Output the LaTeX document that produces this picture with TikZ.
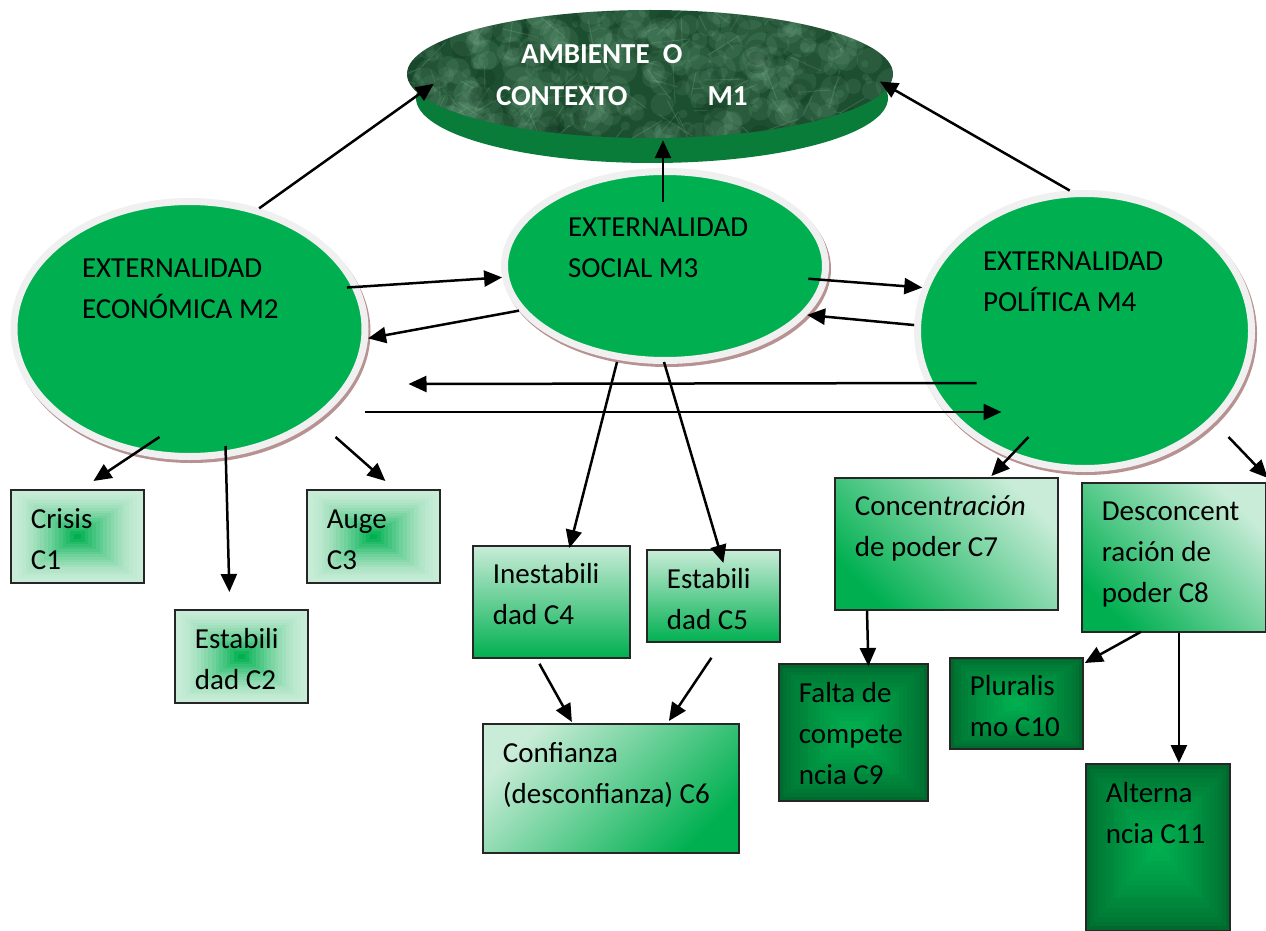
\documentclass[tikz,border=0pt]{standalone}
\usepackage{fontspec}
\setmainfont{Carlito}
\usetikzlibrary{shapes.geometric,arrows.meta,calc}

\definecolor{verde}{RGB}{0,176,80}
\definecolor{verdeclaro}{RGB}{201,236,216}
\definecolor{verdeoscuro}{RGB}{0,106,46}
\definecolor{bordeelipse}{RGB}{240,240,240}
\definecolor{sombra}{RGB}{184,146,146}
\definecolor{marmol}{RGB}{28,78,48}
\definecolor{vetaclara}{RGB}{150,202,166}
\definecolor{vetaoscura}{RGB}{10,44,26}
\definecolor{canto}{RGB}{10,124,58}
\definecolor{lineacaja}{RGB}{38,38,38}

\tikzset{
  externalidad/.style={ellipse, fill=verde, draw=bordeelipse, line width=7pt,
    preaction={draw=sombra, line width=7pt, transform canvas={shift={(2pt,-3pt)}}},
    inner sep=0pt, align=flush left, text height=20pt, font=\fontsize{29}{41}\selectfont},
  concepto/.style={rectangle, draw=lineacaja, line width=1.8pt, anchor=north west,
    inner xsep=20pt, inner ysep=0pt, align=flush left, font=\fontsize{29}{41}\selectfont},
  anillos/.style 2 args={path picture={
    \foreach \i in {0,...,17}{
      \pgfmathsetmacro{\t}{1-\i/18}
      \pgfmathtruncatemacro{\f}{100*(\i/17)^#2}
      \fill[verde!\f!#1] ($(path picture bounding box.center)!\t!(path picture bounding box.north west)$)
        rectangle ($(path picture bounding box.center)!\t!(path picture bounding box.south east)$);
    }}},
  clarobox/.style={concepto, anillos={verdeclaro}{1.5}},
  degradado/.style={concepto, top color=verdeclaro, bottom color=verde},
  oscurobox/.style={concepto, anillos={verdeoscuro}{0.75}},
  flecha/.style={-{Triangle[length=18pt,width=16pt]}, line width=2.5pt, black}
}

\begin{document}
\begin{tikzpicture}[x=1pt, y=-1pt]
        \useasboundingbox[fill=white] (0,0) rectangle (1266,931);

        % Ambiente (M1)
        \fill[canto] (652,98) ellipse [x radius=236, y radius=65];
        \pgfmathsetseed{7}
        \node[ellipse, minimum width=486pt, minimum height=128pt, inner sep=0pt, fill=marmol,
              text=white, font=\bfseries\fontsize{29}{42}\selectfont, align=flush left,
              text width=308pt, text height=20pt, text depth=40pt,
              path picture={
                \foreach \k in {1,...,300}{
                  \pgfmathsetmacro{\px}{486*rnd}
                  \pgfmathsetmacro{\py}{128*rnd}
                  \pgfmathsetmacro{\pr}{3+14*rnd}
                  \fill[vetaclara, opacity=0.11]
                    ([shift={(\px,\py)}]path picture bounding box.north west) circle (\pr);
                }
                \foreach \k in {1,...,90}{
                  \pgfmathsetmacro{\px}{486*rnd}
                  \pgfmathsetmacro{\py}{128*rnd}
                  \pgfmathsetmacro{\pa}{360*rnd}
                  \pgfmathsetmacro{\pl}{10+35*rnd}
                  \draw[vetaclara, opacity=0.2, line width=1pt, line cap=round]
                    ([shift={(\px,\py)}]path picture bounding box.north west) -- ++(\pa:\pl);
                }
                \foreach \k in {1,...,70}{
                  \pgfmathsetmacro{\px}{486*rnd}
                  \pgfmathsetmacro{\py}{128*rnd}
                  \pgfmathsetmacro{\pr}{4+10*rnd}
                  \fill[vetaoscura, opacity=0.18]
                    ([shift={(\px,\py)}]path picture bounding box.north west) circle (\pr);
                }
              }] (m1) at (650,74) {\hspace*{25pt}AMBIENTE\ \ O\\CONTEXTO\hspace{80pt}M1};

        % Externalidades
        \node[externalidad, minimum width=351pt, minimum height=255pt, text width=215pt, text depth=124pt]
              (m2) at (189.5,329) {EXTERNALIDAD\\ECONÓMICA~M2};
        \node[externalidad, minimum width=321pt, minimum height=189pt, text width=194pt, text depth=80pt]
              (m3) at (665,266) {EXTERNALIDAD\\SOCIAL~M3};
        \node[externalidad, minimum width=334pt, minimum height=275pt, text width=203pt, text depth=142pt]
              (m4) at (1084.5,331) {EXTERNALIDAD\\POLÍTICA~M4};

        % Conceptos
        \node[clarobox, text width=93pt, text height=39pt, text depth=54pt] (c1) at (10,489) {Crisis\\C1};
        \node[clarobox, text width=93pt, text height=39pt, text depth=54pt] (c2) at (174,609) {Estabili\\dad~C2};
        \node[clarobox, text width=93pt, text height=39pt, text depth=54pt] (c3) at (306,489) {Auge\\C3};
        \node[degradado, text width=117pt, text height=38pt, text depth=74pt] (c4) at (472,545) {Inestabili\\dad~C4};
        \node[degradado, text width=93pt, text height=39pt, text depth=53pt] (c5) at (646,549) {Estabili\\dad~C5};
        \node[degradado, shading angle=45, text width=216pt, text height=39pt, text depth=90pt]
              (c6) at (482,723) {Confianza\\(desconfianza)~C6};
        \node[degradado, shading angle=-45, text width=183pt, text height=38pt, text depth=94pt]
              (c7) at (834,477) {Concen\textit{tración}\\de~poder~C7};
        \node[degradado, shading angle=-45, text width=144pt, text height=38pt, text depth=111pt]
              (c8) at (1081,482) {Desconcent\\ración~de\\poder~C8};
        \node[oscurobox, text width=109pt, text height=39pt, text depth=98pt] (c9) at (778,663) {Falta~de\\compete\\ncia~C9};
        \node[oscurobox, text width=93pt, text height=38pt, text depth=53pt] (c10) at (949,657) {Pluralis\\mo~C10};
        \node[oscurobox, text width=104pt, text height=39pt, text depth=128pt] (c11) at (1085,763) {Alterna\\ncia~C11};

        % Flechas hacia M1
        \draw[flecha, shorten >=-18pt] (m2.60) -- (m1.185);
        \draw[flecha] ([shift={(-2,-64)}]m3.center) -- ([shift={(13,2)}]m1.south);
        \draw[flecha, shorten >=-10pt] (m4.96) -- (m1.-3);

        % Flechas entre externalidades
        \draw[flecha, shorten <=-12pt] (m2.14) -- (m3.184);
        \draw[flecha] (m3.197) -- (m2.-3);
        \draw[flecha, shorten <=-19pt] (m3.-5) -- (m4.165);
        \draw[flecha] (m4.178) -- (m3.-19);
        \draw[flecha] ([shift={(-108,52)}]m4.center) -- ([shift={(219,55)}]m2.center);
        \draw[flecha] ([shift={(175,83)}]m2.center) -- ([shift={(-83,81)}]m4.center);

        % Flechas hacia conceptos
        \draw[flecha] ([shift={(-30,108)}]m2.center) -- ([shift={(16,-8)}]c1.north);
        \draw[flecha] ([shift={(36,117)}]m2.center) -- ([shift={(-12,-17)}]c2.north);
        \draw[flecha] ([shift={(146,108)}]m2.center) -- ([shift={(12,-8)}]c3.north);
        \draw[flecha] ([shift={(-48,96)}]m3.center) -- ([shift={(18,3)}]c4.north);
        \draw[flecha] ([shift={(-1,96)}]m3.center) -- ([shift={(10,14)}]c5.north);
        \draw[flecha] ([shift={(-12,5)}]c4.south) -- ([shift={(-39,-1)}]c6.north);
        \draw[flecha] ([shift={(-2,15)}]c5.south) -- ([shift={(58,-2)}]c6.north);
        \draw[flecha] ([shift={(-56,106)}]m4.center) -- ([shift={(45,-1)}]c7.north);
        \draw[flecha] ([shift={(144,106)}]m4.center) -- ([shift={(1,-4)}]c8.north east);
        \draw[flecha] ([shift={(33,0)}]c7.south west) -- ([shift={(15,3)}]c9.north);
        \draw[flecha] ([shift={(-33,-1)}]c8.south) -- ([shift={(1,6)}]c10.north east);
        \draw[flecha] ([shift={(5,0)}]c8.south) -- ([shift={(21,0)}]c11.north);
\end{tikzpicture}
\end{document}
